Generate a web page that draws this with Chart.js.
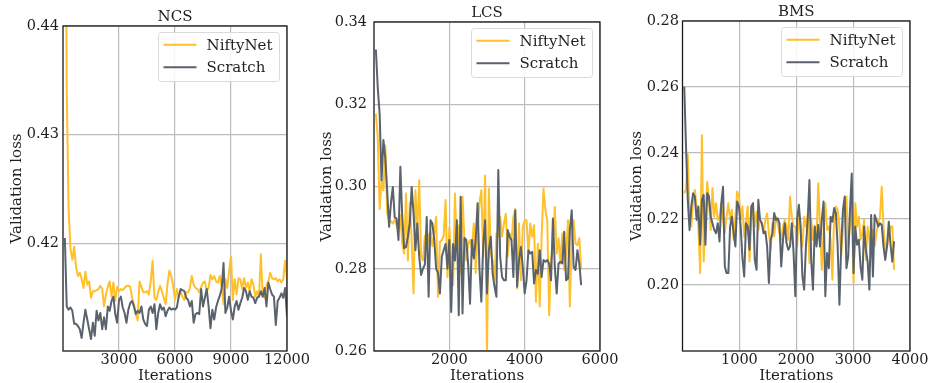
<!DOCTYPE html>
<html>
<head>
<meta charset="utf-8">
<script src="https://cdn.jsdelivr.net/npm/chart.js@4.4.0/dist/chart.umd.min.js"></script>
<style>
  body { margin: 0; background: #fff; }
  #wrap { position: relative; width: 933px; height: 383px; overflow: hidden; }
  canvas { position: absolute; top: 0; }
</style>
</head>
<body>
<div id="wrap">
  <canvas id="ncs" width="315" height="383" style="left:0"></canvas>
  <canvas id="lcs" width="320" height="383" style="left:305px"></canvas>
  <canvas id="bms" width="318" height="383" style="left:615px"></canvas>
</div>
<script>
// validation every N iterations
const steps = (step, n) => Array.from({ length: n }, (_, i) => step * (i + 1));

const ncsIterations = steps(100, 120);
const ncsNifty = [
  0.47, 0.434, 0.4232, 0.4195, 0.4185, 0.4197, 0.4178, 0.4170, 0.4173, 0.4167,
  0.4159, 0.4174, 0.4162, 0.4165, 0.4150, 0.4156, 0.4156, 0.4157, 0.4158, 0.4161,
  0.4158, 0.4142, 0.4153, 0.4160, 0.4165, 0.4151, 0.4164, 0.4147, 0.4160, 0.4156,
  0.4158, 0.4157, 0.4159, 0.4161, 0.4161, 0.4160, 0.4150, 0.4144, 0.4135, 0.4129,
  0.4165, 0.4160, 0.4155, 0.4155, 0.4156, 0.4153, 0.4165, 0.4184, 0.4150, 0.4148,
  0.4155, 0.4161, 0.4156, 0.4150, 0.4144, 0.4163, 0.4175, 0.4170, 0.4161, 0.4148,
  0.4158, 0.4150, 0.4156, 0.4151, 0.4148, 0.4155, 0.4155, 0.4159, 0.4170, 0.4162,
  0.4159, 0.4158, 0.4155, 0.4160, 0.4164, 0.4165, 0.4156, 0.4159, 0.4171, 0.4167,
  0.4170, 0.4165, 0.4164, 0.4170, 0.4160, 0.4144, 0.4167, 0.4159, 0.4175, 0.4188,
  0.4148, 0.4167, 0.4153, 0.4168, 0.4167, 0.4158, 0.4168, 0.4159, 0.4164, 0.4156,
  0.4167, 0.4162, 0.4151, 0.4156, 0.4151, 0.4190, 0.4151, 0.4150, 0.4162, 0.4165,
  0.4173, 0.4168, 0.4167, 0.4168, 0.4165, 0.4167, 0.4164, 0.4167, 0.4184, 0.4167
];
const ncsScratch = [
  0.4205, 0.4142, 0.4139, 0.4141, 0.4138, 0.4126, 0.4126, 0.4124, 0.4121, 0.4113,
  0.4127, 0.4139, 0.4130, 0.4121, 0.4112, 0.4127, 0.4115, 0.4138, 0.4129, 0.4136,
  0.4121, 0.4132, 0.4121, 0.4142, 0.4138, 0.4147, 0.4151, 0.4135, 0.4127, 0.4148,
  0.4151, 0.4141, 0.4136, 0.4127, 0.4139, 0.4145, 0.4147, 0.4142, 0.4135, 0.4138,
  0.4136, 0.4142, 0.4130, 0.4126, 0.4124, 0.4139, 0.4142, 0.4136, 0.4144, 0.4121,
  0.4136, 0.4144, 0.4139, 0.4141, 0.4133, 0.4138, 0.4141, 0.4139, 0.4140, 0.4139,
  0.4141, 0.4151, 0.4158, 0.4157, 0.4156, 0.4150, 0.4148, 0.4142, 0.4147, 0.4127,
  0.4135, 0.4136, 0.4135, 0.4158, 0.4142, 0.4150, 0.4158, 0.4142, 0.4122, 0.4139,
  0.4130, 0.4141, 0.4147, 0.4152, 0.4158, 0.4182, 0.4136, 0.4141, 0.4151, 0.4138,
  0.4130, 0.4142, 0.4147, 0.4139, 0.4145, 0.4150, 0.4159, 0.4156, 0.4148, 0.4156,
  0.4151, 0.4150, 0.4145, 0.4150, 0.4151, 0.4156, 0.4151, 0.4159, 0.4142, 0.4164,
  0.4158, 0.4153, 0.4151, 0.4125, 0.4147, 0.4150, 0.4154, 0.4150, 0.4159, 0.4133
];

const lcsIterations = steps(50, 110);
const lcsNifty = [
  0.3177, 0.3120, 0.2945, 0.3015, 0.2990, 0.3100, 0.2935, 0.2918, 0.2915, 0.2910,
  0.2920, 0.2905, 0.2890, 0.2930, 0.2860, 0.2837, 0.2983, 0.2820, 0.2960, 0.2870,
  0.2740, 0.2991, 0.2890, 0.3015, 0.2830, 0.2820, 0.2880, 0.2845, 0.2880, 0.2890,
  0.2855, 0.2885, 0.2926, 0.2732, 0.2865, 0.2870, 0.2880, 0.2967, 0.2780, 0.2900,
  0.2820, 0.2760, 0.2983, 0.2850, 0.2905, 0.2790, 0.2975, 0.2870, 0.2820, 0.2860,
  0.2870, 0.2850, 0.2910, 0.2790, 0.2890, 0.2960, 0.2991, 0.2830, 0.3027, 0.2590,
  0.2995, 0.2837, 0.2820, 0.2772, 0.2886, 0.2878, 0.2926, 0.2878, 0.2910, 0.2934,
  0.2830, 0.2886, 0.2869, 0.2926, 0.2945, 0.2752, 0.2910, 0.2772, 0.2902, 0.2918,
  0.2918, 0.2837, 0.2910, 0.2878, 0.2906, 0.2720, 0.2861, 0.2708, 0.2878, 0.2995,
  0.2942, 0.2918, 0.2687, 0.2821, 0.2853, 0.2950, 0.2837, 0.2874, 0.2813, 0.2886,
  0.2797, 0.2837, 0.2918, 0.2708, 0.2886, 0.2918, 0.2861, 0.2857, 0.2874, 0.2797
];
const lcsScratch = [
  0.3333, 0.3240, 0.3177, 0.3015, 0.3113, 0.3070, 0.2990, 0.2902, 0.2960, 0.2999,
  0.2925, 0.2922, 0.2870, 0.3048, 0.2926, 0.2850, 0.2853, 0.2878, 0.2910, 0.2999,
  0.2935, 0.2845, 0.2910, 0.2830, 0.2785, 0.2800, 0.2810, 0.2926, 0.2732, 0.2918,
  0.2910, 0.2870, 0.2800, 0.2790, 0.2740, 0.2829, 0.2845, 0.2860, 0.2800, 0.2870,
  0.2695, 0.2860, 0.2820, 0.2918, 0.2687, 0.2975, 0.2691, 0.2875, 0.2870, 0.2810,
  0.2715, 0.2870, 0.2825, 0.2870, 0.2959, 0.2800, 0.2720, 0.2860, 0.2918, 0.2740,
  0.2845, 0.2878, 0.2788, 0.2756, 0.2732, 0.3040, 0.2829, 0.2780, 0.2772, 0.2772,
  0.2894, 0.2878, 0.2870, 0.2780, 0.2942, 0.2756, 0.2821, 0.2853, 0.2805, 0.2740,
  0.2772, 0.2845, 0.2837, 0.2841, 0.2764, 0.2797, 0.2788, 0.2845, 0.2780, 0.2821,
  0.2817, 0.2821, 0.2813, 0.2772, 0.2922, 0.2805, 0.2740, 0.2813, 0.2817, 0.2813,
  0.2890, 0.2772, 0.2776, 0.2894, 0.2942, 0.2805, 0.2797, 0.2845, 0.2813, 0.2760
];

const bmsIterations = steps(31, 120);
const bmsNifty = [
  0.2278, 0.2290, 0.2395, 0.2197, 0.2177, 0.2258, 0.2288, 0.2238, 0.2177, 0.2036,
  0.2454, 0.2071, 0.2197, 0.2313, 0.2258, 0.2167, 0.2293, 0.2207, 0.2248, 0.2197,
  0.2207, 0.2248, 0.2197, 0.2157, 0.2207, 0.2248, 0.2197, 0.2228, 0.2137, 0.2207,
  0.2283, 0.2268, 0.2197, 0.2238, 0.2147, 0.2192, 0.2238, 0.2071, 0.2202, 0.2238,
  0.2177, 0.2222, 0.2167, 0.2197, 0.2187, 0.2157, 0.2197, 0.2217, 0.2157, 0.2107,
  0.2187, 0.2147, 0.2207, 0.2187, 0.2157, 0.2137, 0.2177, 0.2197, 0.2177, 0.2137,
  0.2268, 0.2207, 0.2177, 0.2177, 0.2117, 0.2217, 0.2157, 0.2117, 0.2207, 0.2177,
  0.2212, 0.2066, 0.2197, 0.2137, 0.2177, 0.2137, 0.2308, 0.2177, 0.2046, 0.2157,
  0.2248, 0.2167, 0.2177, 0.2137, 0.2016, 0.2207, 0.2238, 0.2228, 0.2177, 0.2087,
  0.2177, 0.2238, 0.2268, 0.2117, 0.2177, 0.2248, 0.2006, 0.2248, 0.2177, 0.2207,
  0.2137, 0.2157, 0.2197, 0.2076, 0.2177, 0.2137, 0.2087, 0.2167, 0.2117, 0.2157,
  0.2187, 0.2207, 0.2298, 0.2177, 0.2107, 0.2117, 0.2147, 0.2177, 0.2177, 0.2046
];
const bmsScratch = [
  0.2601, 0.2419, 0.2258, 0.2167, 0.2238, 0.2278, 0.2268, 0.2197, 0.2238, 0.2122,
  0.2258, 0.2273, 0.2122, 0.2278, 0.2268, 0.2207, 0.2187, 0.2167, 0.2157, 0.2187,
  0.2132, 0.2248, 0.2298, 0.2056, 0.2036, 0.2036, 0.2177, 0.2207, 0.2157, 0.2117,
  0.2253, 0.2238, 0.2177, 0.2081, 0.2026, 0.2187, 0.2177, 0.2107, 0.2238, 0.2248,
  0.2076, 0.2046, 0.2258, 0.2197, 0.2187, 0.2157, 0.2162, 0.2117, 0.2006, 0.2137,
  0.2157, 0.2218, 0.2197, 0.2202, 0.2187, 0.2056, 0.2137, 0.2187, 0.2127, 0.2107,
  0.2117, 0.2187, 0.2097, 0.1966, 0.2200, 0.2243, 0.2177, 0.2026, 0.1986, 0.2117,
  0.2197, 0.2318, 0.2076, 0.1986, 0.2177, 0.2117, 0.2182, 0.2117, 0.2197, 0.2253,
  0.1966, 0.2097, 0.2051, 0.2207, 0.2192, 0.2233, 0.2218, 0.2117, 0.1940, 0.2117,
  0.2228, 0.2268, 0.2051, 0.2087, 0.2228, 0.2338, 0.2036, 0.2177, 0.2122, 0.2137,
  0.2056, 0.2016, 0.2177, 0.2107, 0.2071, 0.1986, 0.2212, 0.2026, 0.2212, 0.2197,
  0.2177, 0.2187, 0.2182, 0.2117, 0.2076, 0.2117, 0.2192, 0.2122, 0.2071, 0.2132
];

// tick labels
const ncsXTicks = [3000, 6000, 9000, 12000];
const ncsYTicks = [0.42, 0.43, 0.44];
const lcsXTicks = [2000, 4000, 6000];
const lcsYTicks = [0.26, 0.28, 0.30, 0.32, 0.34];
const bmsXTicks = [1000, 2000, 3000, 4000];
const bmsYTicks = [0.20, 0.22, 0.24, 0.26, 0.28];

const NIFTY_COLOR = '#ffc12b';
const SCRATCH_COLOR = '#59626d';
const TEXT = '#1e1e1e';
const GRID = '#bcbcbc';
const SERIF = '"DejaVu Serif", "Liberation Serif", serif';

// frame around the axes + legend box in the upper right corner
const panelDecor = {
  id: 'panelDecor',
  afterDraw(chart) {
    const { ctx, chartArea: a } = chart;
    ctx.save();
    ctx.strokeStyle = '#1a1a1a';
    ctx.lineWidth = 1.3;
    ctx.strokeRect(a.left, a.top, a.right - a.left, a.bottom - a.top);

    const w = 121, h = 49;
    const x0 = a.right - 7.5 - w, y0 = a.top + 6.5;
    ctx.beginPath();
    if (ctx.roundRect) ctx.roundRect(x0, y0, w, h, 3); else ctx.rect(x0, y0, w, h);
    ctx.fillStyle = 'rgba(255,255,255,0.85)';
    ctx.fill();
    ctx.strokeStyle = '#dadada';
    ctx.lineWidth = 1;
    ctx.stroke();

    ctx.font = '15px ' + SERIF;
    ctx.textBaseline = 'middle';
    chart.data.datasets.forEach((ds, i) => {
      const y = y0 + 12.3 + i * 22.4;
      ctx.strokeStyle = ds.borderColor;
      ctx.lineWidth = 2;
      ctx.beginPath();
      ctx.moveTo(x0 + 5, y);
      ctx.lineTo(x0 + 38, y);
      ctx.stroke();
      ctx.fillStyle = TEXT;
      ctx.fillText(ds.label, x0 + 48, y + 1);
    });
    ctx.restore();
  }
};

function makePanel(id, o) {
  const pts = (ys) => o.iters.map((x, i) => ({ x, y: ys[i] }));
  return new Chart(document.getElementById(id), {
    type: 'line',
    data: {
      datasets: [
        { label: 'NiftyNet', data: pts(o.nifty), borderColor: NIFTY_COLOR, order: 1 },
        { label: 'Scratch', data: pts(o.scratch), borderColor: SCRATCH_COLOR, order: 0 }
      ]
    },
    options: {
      responsive: false,
      animation: false,
      layout: { padding: { left: 0, right: o.padRight, top: 0, bottom: 0 } },
      elements: {
        point: { radius: 0 },
        line: { borderWidth: 2, tension: 0, borderJoinStyle: 'round' }
      },
      datasets: { line: { clip: 0 } },
      plugins: {
        legend: { display: false },
        tooltip: { enabled: false },
        title: {
          display: true, text: o.title, color: TEXT, fullSize: false,
          font: { family: SERIF, size: 15, weight: 'normal', lineHeight: 1 },
          padding: { top: o.titleTop, bottom: 1 }
        }
      },
      scales: {
        x: {
          type: 'linear', min: o.xMin, max: o.xMax,
          afterBuildTicks: (s) => { s.ticks = o.xTicks.map(v => ({ value: v })); },
          afterFit: (s) => { s.height = 32; },
          ticks: {
            autoSkip: false, maxRotation: 0, padding: 1, color: TEXT,
            font: { family: SERIF, size: 14.5 },
            callback: (v) => String(v)
          },
          grid: { color: GRID, lineWidth: 1.2, drawTicks: false },
          border: { display: false },
          title: {
            display: true, text: 'Iterations', color: TEXT,
            font: { family: SERIF, size: 15, lineHeight: 1 }, padding: { top: 0, bottom: -1 }
          }
        },
        y: {
          min: o.yMin, max: o.yMax,
          afterBuildTicks: (s) => { s.ticks = o.yTicks.map(v => ({ value: v })); },
          afterFit: (s) => { s.width = o.yWidth; },
          ticks: {
            padding: o.yPad, color: TEXT,
            font: { family: SERIF, size: 14.5 },
            callback: (v) => Number(v).toFixed(2)
          },
          grid: { color: GRID, lineWidth: 1.2, drawTicks: false },
          border: { display: false },
          title: {
            display: true, text: 'Validation loss', color: TEXT,
            font: { family: SERIF, size: 15, lineHeight: 1.2 },
            padding: { top: o.yTitlePad, bottom: 0 }
          }
        }
      }
    },
    plugins: [panelDecor]
  });
}

makePanel('ncs', {
  title: 'NCS', iters: ncsIterations, nifty: ncsNifty, scratch: ncsScratch,
  xMin: 0, xMax: 12000, xTicks: ncsXTicks,
  yMin: 0.4101, yMax: 0.44, yTicks: ncsYTicks,
  yWidth: 63, yPad: 4, yTitlePad: 8.3, padRight: 28, titleTop: 10
});
makePanel('lcs', {
  title: 'LCS', iters: lcsIterations, nifty: lcsNifty, scratch: lcsScratch,
  xMin: 0, xMax: 6000, xTicks: lcsXTicks,
  yMin: 0.26, yMax: 0.34, yTicks: lcsYTicks,
  yWidth: 69, yPad: 7, yTitlePad: 13.3, padRight: 25, titleTop: 6
});
makePanel('bms', {
  title: 'BMS', iters: bmsIterations, nifty: bmsNifty, scratch: bmsScratch,
  xMin: 0, xMax: 4000, xTicks: bmsXTicks,
  yMin: 0.18, yMax: 0.28, yTicks: bmsYTicks,
  yWidth: 67.5, yPad: 3.5, yTitlePad: 13.3, padRight: 23, titleTop: 5
});
</script>
</body>
</html>
